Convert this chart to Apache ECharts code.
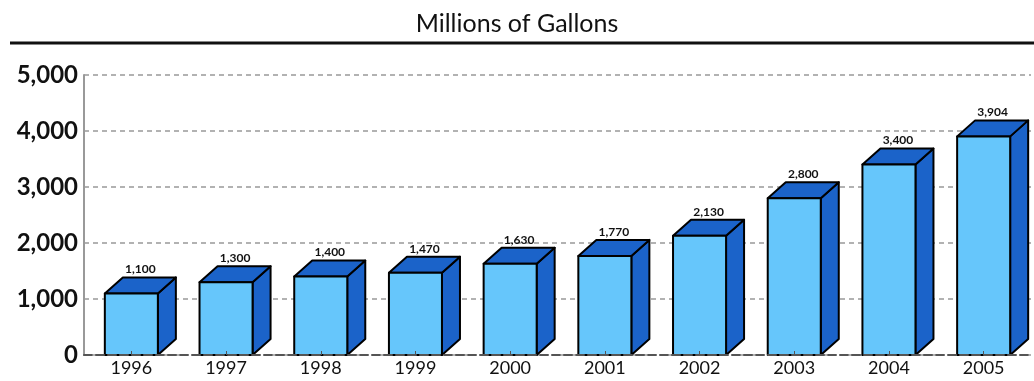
<!DOCTYPE html>
<html>
<head>
<meta charset="utf-8">
<script src="https://cdn.jsdelivr.net/npm/echarts@6/dist/echarts.min.js"></script>
<style>
  html, body, #main { margin: 0; padding: 0; width: 1034px; height: 381px; background: #fff; overflow: hidden; }
</style>
</head>
<body>
<div id="main"></div>
<script>
// data
var years = ["1996", "1997", "1998", "1999", "2000", "2001", "2002", "2003", "2004", "2005"];
var gallons = [1100, 1300, 1400, 1470, 1630, 1770, 2130, 2800, 3400, 3904];
var yTicks = [0, 1000, 2000, 3000, 4000, 5000];
var chartTitle = "Millions of Gallons";

var FRONT = "#66c6fb";
var DARK = "#1b63c9";

function fmt(v) {
  return Number(v).toLocaleString("en-US");
}

// 3D box: front face + top + side
function renderBox(params, api) {
  var idx = api.value(0);
  var top = api.coord([idx, api.value(1)]);
  var base = api.coord([idx, 0]);
  var w = api.size([1, 0])[0] * 0.56;
  var dx = 18, dy = 16;
  var x0 = top[0] - w / 2, x1 = top[0] + w / 2;
  var yt = top[1], yb = base[1];
  var stroke = { stroke: "#000", lineWidth: 2, lineJoin: "round" };
  return {
    type: "group",
    children: [
      {
        type: "polygon",
        shape: { points: [[x1, yt], [x1 + dx, yt - dy], [x1 + dx, yb - dy], [x1, yb]] },
        style: Object.assign({ fill: DARK }, stroke)
      },
      {
        type: "polygon",
        shape: { points: [[x0, yt], [x0 + dx, yt - dy], [x1 + dx, yt - dy], [x1, yt]] },
        style: Object.assign({ fill: DARK }, stroke)
      },
      {
        type: "rect",
        shape: { x: x0, y: yt, width: w, height: yb - yt },
        style: Object.assign({ fill: FRONT }, stroke)
      },
      {
        type: "text",
        style: {
          x: top[0] + dx / 2,
          y: yt - dy - 2,
          text: fmt(api.value(1)),
          textAlign: "center",
          textVerticalAlign: "bottom",
          fill: "#111",
          font: "bold 12px Lato"
        }
      }
    ]
  };
}

var myChart = echarts.init(document.getElementById("main"));
var option = {
  animation: false,
  title: {
    text: chartTitle,
    left: "center",
    top: 6,
    textStyle: { fontFamily: "Lato", fontWeight: "normal", fontSize: 25, color: "#111" }
  },
  graphic: [
    {
      type: "line",
      shape: { x1: 10, y1: 43, x2: 1034, y2: 43 },
      style: { stroke: "#111", lineWidth: 3 }
    }
  ],
  grid: { left: 84, right: 3, top: 75, bottom: 26 },
  xAxis: {
    type: "category",
    data: years,
    z: 3,
    axisLine: { lineStyle: { color: "#555", width: 2, type: "dashed" } },
    axisTick: { show: true, alignWithLabel: true, inside: true, length: 4, lineStyle: { color: "#555" } },
    axisLabel: { color: "#111", fontFamily: "Lato", fontSize: 18, margin: 4 }
  },
  yAxis: {
    type: "value",
    min: yTicks[0],
    max: yTicks[yTicks.length - 1],
    interval: 1000,
    axisLine: { show: true, lineStyle: { color: "#999", width: 2 } },
    axisTick: { show: false },
    splitLine: { lineStyle: { color: "#999", width: 1.5, type: [5, 4] } },
    axisLabel: {
      color: "#111",
      fontFamily: "Lato",
      fontWeight: "bold",
      fontSize: 24,
      margin: 6,
      formatter: function (v) { return fmt(v); }
    }
  },
  series: [
    {
      type: "custom",
      renderItem: renderBox,
      encode: { x: 0, y: 1 },
      data: gallons.map(function (v, i) { return [i, v]; }),
      clip: false
    }
  ]
};
myChart.setOption(option);
window.onresize = myChart.resize;
</script>
</body>
</html>
